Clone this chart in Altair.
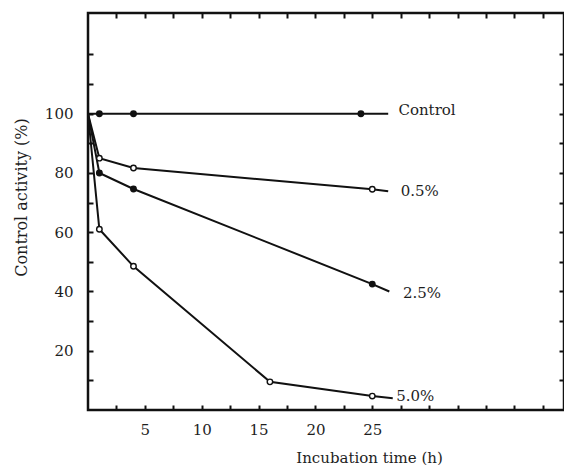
import altair as alt
import pandas as pd

# ---- data ----
series_names = ["Control", "0.5%", "2.5%", "5.0%"]

control_t = [0, 1, 4, 24, 26.4]
control_v = [100, 100, 100, 100, 100]
control_mark = [0, 1, 1, 1, 0]

p05_t = [0, 1, 4, 25, 26.4]
p05_v = [100, 85, 81.7, 74.5, 73.8]
p05_mark = [0, 1, 1, 1, 0]

p25_t = [0, 1, 4, 25, 26.5]
p25_v = [100, 80, 74.6, 42.5, 40]
p25_mark = [0, 1, 1, 1, 0]

p50_t = [0, 1, 4, 16, 25, 26.8]
p50_v = [100, 61, 48.5, 9.5, 4.7, 4]
p50_mark = [0, 1, 1, 1, 1, 0]

marker_style = ["filled", "open", "filled", "open"]

label_t = [27.3, 27.5, 27.7, 27.1]
label_v = [101.2, 74.0, 39.4, 4.7]

x_ticks = [2.5 * i for i in range(1, 17)]
y_ticks = [10 * i for i in range(1, 13)]

# ---- build tables ----
rows = []
for name, ts, vs, ms, st in zip(
    series_names,
    [control_t, p05_t, p25_t, p50_t],
    [control_v, p05_v, p25_v, p50_v],
    [control_mark, p05_mark, p25_mark, p50_mark],
    marker_style,
):
    for i, (t, v, m) in enumerate(zip(ts, vs, ms)):
        rows.append({"series": name, "t": t, "v": v, "marker": m, "style": st, "order": i})
df = pd.DataFrame(rows)
labels = pd.DataFrame({"series": series_names, "t": label_t, "v": label_v})

FONT = "DejaVu Serif"
INK = "#111111"
TXT = "#1e1e1e"

xscale = alt.Scale(domain=[0, 41.86], nice=False, zero=False)
yscale = alt.Scale(domain=[0, 134], nice=False, zero=False)

common_tick = dict(tickSize=5, tickWidth=2, tickColor=INK, domain=False, grid=False, offset=-5)

x_bottom = alt.Axis(
    orient="bottom", values=x_ticks, format="d",
    labelExpr="(datum.value % 5 == 0 && datum.value <= 25) ? datum.label : ''",
    labelFont=FONT, labelFontSize=15, labelColor=TXT, labelPadding=12,
    labelOverlap=False, labelFlush=False,
    title="Incubation time (h)", titleFont=FONT, titleFontSize=15, titleFontWeight="normal",
    titleColor=TXT, titleX=281, titleY=57, titleAlign="center", titleBaseline="alphabetic",
    **common_tick,
)
y_left = alt.Axis(
    orient="left", values=y_ticks, format="d",
    labelExpr="(datum.value % 20 == 0 && datum.value <= 100) ? datum.label : ''",
    labelFont=FONT, labelFontSize=15, labelColor=TXT, labelPadding=15,
    labelOverlap=False, labelFlush=False,
    title="Control activity (%)", titleFont=FONT, titleFontSize=16, titleFontWeight="normal",
    titleColor=TXT, titleX=-67, titleY=184, titleAngle=270, titleAlign="center",
    titleBaseline="alphabetic",
    **common_tick,
)
x_top = alt.Axis(orient="top", values=x_ticks, labels=False, title=None, **common_tick)
y_right = alt.Axis(orient="right", values=y_ticks, labels=False, title=None, **common_tick)

lines = alt.Chart(df).mark_line(color=INK, strokeWidth=2).encode(
    x=alt.X("t:Q", scale=xscale, axis=x_bottom),
    y=alt.Y("v:Q", scale=yscale, axis=y_left),
    detail="series:N",
    order="order:Q",
)

points = alt.Chart(df).transform_filter("datum.marker == 1").mark_point(
    shape="circle", size=30, filled=True, stroke=INK, strokeWidth=1.4, opacity=1
).encode(
    x=alt.X("t:Q", scale=xscale, axis=x_top),
    y=alt.Y("v:Q", scale=yscale, axis=y_right),
    fill=alt.Fill("style:N", scale=alt.Scale(domain=["filled", "open"], range=[INK, "white"]), legend=None),
)

texts = alt.Chart(labels).mark_text(
    align="left", baseline="middle", font=FONT, fontSize=15, color=TXT
).encode(
    x=alt.X("t:Q", scale=xscale, axis=None),
    y=alt.Y("v:Q", scale=yscale, axis=None),
    text="series:N",
)

chart = alt.layer(lines, points, texts).resolve_axis(
    x="independent", y="independent"
).properties(
    width=476, height=397,
    autosize="none",
    padding={"left": 80, "top": 5, "right": 0, "bottom": 55},
    background="white",
).configure_view(stroke=INK, strokeWidth=2.5)

chart.save("out.html", embed_options={"renderer": "svg", "actions": False})
